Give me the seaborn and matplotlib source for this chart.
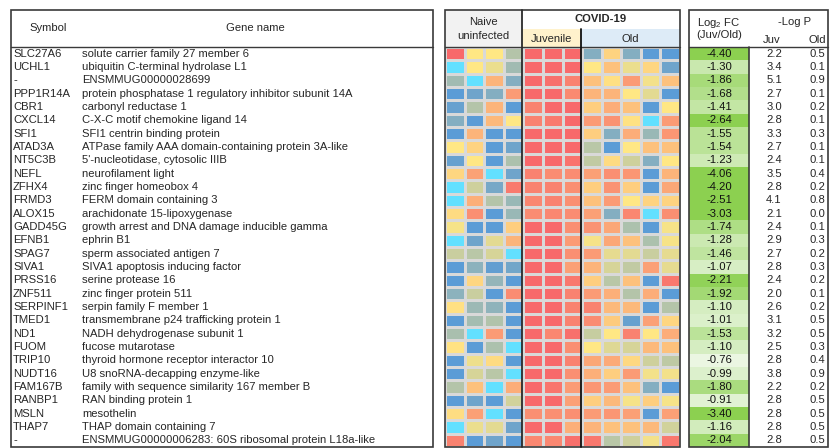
import numpy as np
import pandas as pd
import matplotlib
matplotlib.use("Agg")
import matplotlib.pyplot as plt
import seaborn as sns
from matplotlib.colors import LinearSegmentedColormap
from matplotlib.patches import Rectangle

# ---------------- data ----------------
symbols = ["SLC27A6", "UCHL1", "-", "PPP1R14A", "CBR1", "CXCL14", "SFI1", "ATAD3A",
           "NT5C3B", "NEFL", "ZFHX4", "FRMD3", "ALOX15", "GADD45G", "EFNB1", "SPAG7",
           "SIVA1", "PRSS16", "ZNF511", "SERPINF1", "TMED1", "ND1", "FUOM", "TRIP10",
           "NUDT16", "FAM167B", "RANBP1", "MSLN", "THAP7", "-"]

gene_names = ["solute carrier family 27 member 6",
              "ubiquitin C-terminal hydrolase L1",
              "ENSMMUG00000028699",
              "protein phosphatase 1 regulatory inhibitor subunit 14A",
              "carbonyl reductase 1",
              "C-X-C motif chemokine ligand 14",
              "SFI1 centrin binding protein",
              "ATPase family AAA domain-containing protein 3A-like",
              "5'-nucleotidase, cytosolic IIIB",
              "neurofilament light",
              "zinc finger homeobox 4",
              "FERM domain containing 3",
              "arachidonate 15-lipoxygenase",
              "growth arrest and DNA damage inducible gamma",
              "ephrin B1",
              "sperm associated antigen 7",
              "SIVA1 apoptosis inducing factor",
              "serine protease 16",
              "zinc finger protein 511",
              "serpin family F member 1",
              "transmembrane p24 trafficking protein 1",
              "NADH dehydrogenase subunit 1",
              "fucose mutarotase",
              "thyroid hormone receptor interactor 10",
              "U8 snoRNA-decapping enzyme-like",
              "family with sequence similarity 167 member B",
              "RAN binding protein 1",
              "mesothelin",
              "THAP domain containing 7",
              "ENSMMUG00000006283: 60S ribosomal protein L18a-like"]

sample_ids = ["N1", "N2", "N3", "N4", "J1", "J2", "J3", "O1", "O2", "O3", "O4", "O5"]

# relative expression per sample (0 = lowest, 10 = highest)
expression_level = [
    [10, 5, 5, 3.2, 10, 10, 10, 2, 5.8, 2, 1, 1],
    [0, 5, 4.5, 2.7, 10, 10, 10, 5, 6.5, 4.5, 5.7, 1.5],
    [2.7, 0, 7, 2, 10, 9.7, 9, 6.5, 5.3, 8, 4.7, 6.5],
    [1, 1.5, 2, 8, 10, 10, 8.7, 7, 7, 5, 4.3, 1],
    [1.3, 3.2, 7, 1, 9, 10, 10, 6, 7.3, 6.5, 1, 5],
    [2, 1, 6.8, 5, 9, 9.3, 10, 8, 8.3, 5.2, 0, 8],
    [1, 7, 1, 1, 10, 10, 10, 6, 2, 7.3, 2.5, 8.2],
    [5, 5.8, 1, 1.5, 10, 10, 10, 3.3, 1, 5, 6.5, 6.5],
    [1.3, 5, 1, 3, 10, 10, 9.6, 3.5, 5.5, 3.8, 2, 5],
    [5.7, 7.7, 0, 1.5, 9, 8.6, 8.6, 7.8, 8.5, 8.2, 1, 7],
    [0, 3.8, 1.7, 9.3, 9, 9, 8.5, 6, 8.3, 6, 1, 7.5],
    [0, 7.2, 3.2, 2.5, 8.8, 9, 8.5, 6.5, 8, 5, 5.8, 5.8],
    [5.5, 8.5, 1, 2.5, 8.6, 8.8, 8.6, 7.8, 2, 8.8, 0, 8.5],
    [4.8, 1, 1, 6, 10, 10, 8.5, 8.3, 7.5, 3, 1, 4.8],
    [0, 1.5, 4.3, 7, 10, 10, 8, 4.8, 7.5, 6.5, 3, 4.8],
    [3.7, 3.3, 4, 0, 10, 10, 8.5, 8, 4.4, 4.3, 3.7, 4.4],
    [1, 2.2, 1.2, 1.6, 10, 10, 7.8, 7, 4, 3.5, 7.8, 4.4],
    [1, 5.7, 2.4, 1, 10, 10, 9.4, 6, 3.3, 6.5, 1, 9.4],
    [2.2, 3.7, 1, 8.6, 10, 10, 9, 8, 7.2, 3.2, 7.3, 1],
    [5.3, 2.6, 2.3, 1, 10, 10, 9, 9, 6.8, 6.8, 1, 3.2],
    [1, 2.8, 3.1, 1, 10, 10, 9, 8.6, 6.1, 1.3, 7.8, 5.7],
    [2.9, 0, 8, 1, 10, 8.8, 9.7, 3.6, 5, 9, 5, 7.3],
    [5.2, 1, 3, 0, 10, 10, 8.5, 5, 4.2, 4, 6.8, 6.5],
    [1, 4.6, 5.5, 1, 10, 10, 9, 7.5, 7.4, 5.6, 3.8, 3.4],
    [1, 4, 3.3, 0, 10, 10, 8.5, 7.2, 6, 8, 4.7, 4.7],
    [3.2, 6.5, 0, 7.3, 10, 9.5, 8, 8.2, 8, 6.5, 2, 1],
    [1, 1.5, 1, 3.9, 10, 10, 7.8, 6, 6.8, 4.8, 6, 4.8],
    [5.4, 7.8, 0, 1, 8.5, 8.5, 8.5, 8, 8.2, 7.8, 1, 7.8],
    [0, 4.5, 4.3, 1.5, 10, 10, 7.2, 7, 6.5, 6.5, 6.8, 3.9],
    [9, 1, 1.5, 1, 8.8, 8.8, 9.7, 9.4, 3.3, 3.8, 4.7, 9.4],
]

log2fc = [-4.40, -1.30, -1.86, -1.68, -1.41, -2.64, -1.55, -1.54, -1.23, -4.06,
          -4.20, -2.51, -3.03, -1.74, -1.28, -1.46, -1.07, -2.21, -1.92, -1.10,
          -1.01, -1.53, -1.10, -0.76, -0.99, -1.80, -0.91, -3.40, -1.16, -2.04]

neglogp_juv = [2.2, 3.4, 5.1, 2.7, 3.0, 2.8, 3.3, 2.7, 2.4, 3.5, 2.8, 4.1, 2.1, 2.4, 2.9,
               2.7, 2.8, 2.4, 2.0, 2.6, 3.1, 3.2, 2.5, 2.8, 3.8, 2.2, 2.8, 2.8, 2.8, 2.8]
neglogp_old = [0.5, 0.1, 0.9, 0.1, 0.2, 0.1, 0.3, 0.1, 0.1, 0.4, 0.2, 0.8, 0.0, 0.1, 0.3,
               0.2, 0.3, 0.2, 0.1, 0.2, 0.5, 0.5, 0.3, 0.4, 0.9, 0.2, 0.5, 0.5, 0.5, 0.5]

# ---------------- style ----------------
sns.set_theme(style="white")
plt.rcParams["font.family"] = ["Liberation Sans", "DejaVu Sans"]
plt.rcParams["mathtext.fontset"] = "custom"
plt.rcParams["mathtext.rm"] = "Liberation Sans"
plt.rcParams["mathtext.it"] = "Liberation Sans"

FS = 8.1
EDGE = "#3a3a3a"

expr_cmap = LinearSegmentedColormap.from_list(
    "expr", [(0.0, "#62E0FF"), (0.1, "#5B9BD5"), (0.5, "#FFE784"), (1.0, "#F8696B")])
fc_cmap = LinearSegmentedColormap.from_list("fc", ["#8CD050", "#EEF7E7"])

W, H = 830, 448
TOP, HEAD, BOT = 10, 47, 447
n_rows = len(symbols)
row_h = (BOT - HEAD) / n_rows

fig = plt.figure(figsize=(W / 100, H / 100), dpi=100)
fig.patch.set_facecolor("white")


def frac(x0, y0, x1, y1):
    return [x0 / W, 1 - y1 / H, (x1 - x0) / W, (y1 - y0) / H]


base = fig.add_axes([0, 0, 1, 1])
base.set_xlim(0, W)
base.set_ylim(H, 0)
base.axis("off")

# ---------- left table: symbol + gene name ----------
LX0, LX1 = 11, 433
base.text(48, 28, "Symbol", ha="center", va="center", fontsize=FS)
base.text(255, 28, "Gene name", ha="center", va="center", fontsize=FS)
for i, (s, g) in enumerate(zip(symbols, gene_names)):
    yc = HEAD + (i + 0.5) * row_h
    base.text(13, yc, s, ha="left", va="center", fontsize=FS)
    base.text(82, yc, g, ha="left", va="center", fontsize=FS)

# ---------- heatmap header ----------
HX0, HX1 = 445, 680
XN, XJ = 522, 581
SUB = 29
base.add_patch(Rectangle((HX0, TOP), XN - HX0, HEAD - TOP, color="#F2F2F2", lw=0))
base.add_patch(Rectangle((XN, SUB), XJ - XN, HEAD - SUB, color="#FFF2CC", lw=0))
base.add_patch(Rectangle((XJ, SUB), HX1 - XJ, HEAD - SUB, color="#DDEBF7", lw=0))
base.text((HX0 + XN) / 2, 22, "Naive", ha="center", va="center", fontsize=FS)
base.text((HX0 + XN) / 2, 36, "uninfected", ha="center", va="center", fontsize=FS)
base.text((XN + HX1) / 2, 19.5, "COVID-19", ha="center", va="center",
          fontsize=FS, fontweight="bold")
base.text((XN + XJ) / 2, 38.5, "Juvenile", ha="center", va="center", fontsize=FS)
base.text((XJ + HX1) / 2, 38.5, "Old", ha="center", va="center", fontsize=FS)

# ---------- heatmap ----------
expr_df = pd.DataFrame(expression_level, index=symbols, columns=sample_ids)
axh = fig.add_axes(frac(HX0, HEAD, HX1, BOT))
sns.heatmap(expr_df.values, ax=axh, cmap=expr_cmap, vmin=0, vmax=10, cbar=False,
            linewidths=0.9, linecolor="#D9D9D9", xticklabels=False, yticklabels=False)
axh.set_xlabel("")
axh.set_ylabel("")

# ---------- right table: log2 FC + -log P ----------
RX0, RG, RX1 = 689, 749, 828
fc_df = pd.DataFrame({"log2fc": log2fc}, index=symbols)
axg = fig.add_axes(frac(RX0, HEAD, RG, BOT))
sns.heatmap(fc_df.values, ax=axg, cmap=fc_cmap, vmin=-2.3, vmax=-0.7, cbar=False,
            annot=True, fmt=".2f", annot_kws={"fontsize": FS, "color": "#111111"},
            xticklabels=False, yticklabels=False)
axg.set_xlabel("")
axg.set_ylabel("")

base.text(719, 22.5, r"Log$_2$ FC", ha="center", va="center", fontsize=FS)
base.text(719, 35, "(Juv/Old)", ha="center", va="center", fontsize=FS)
base.text(795, 22, "-Log P", ha="center", va="center", fontsize=FS)
base.text(772, 40, "Juv", ha="center", va="center", fontsize=FS)
base.text(817, 40, "Old", ha="center", va="center", fontsize=FS)
for i, (pj, po) in enumerate(zip(neglogp_juv, neglogp_old)):
    yc = HEAD + (i + 0.5) * row_h
    base.text(774, yc, f"{pj:.1f}", ha="center", va="center", fontsize=FS)
    base.text(817, yc, f"{po:.1f}", ha="center", va="center", fontsize=FS)

# ---------- frames and dividers ----------
top = fig.add_axes([0, 0, 1, 1])
top.set_xlim(0, W)
top.set_ylim(H, 0)
top.axis("off")
top.patch.set_alpha(0)
for x0, x1 in [(LX0, LX1), (HX0, HX1), (RX0, RX1)]:
    top.add_patch(Rectangle((x0, TOP), x1 - x0, BOT - TOP, fill=False,
                            ec=EDGE, lw=1.2))
    top.plot([x0, x1], [HEAD, HEAD], color=EDGE, lw=1.0)
top.plot([XN, XN], [TOP, BOT], color="#2b2b2b", lw=1.3)
top.plot([XJ, XJ], [SUB, BOT], color="#111111", lw=1.3)
top.plot([RG, RG], [HEAD, BOT], color=EDGE, lw=1.2)

fig.savefig("out.png", dpi=100, facecolor="white")
